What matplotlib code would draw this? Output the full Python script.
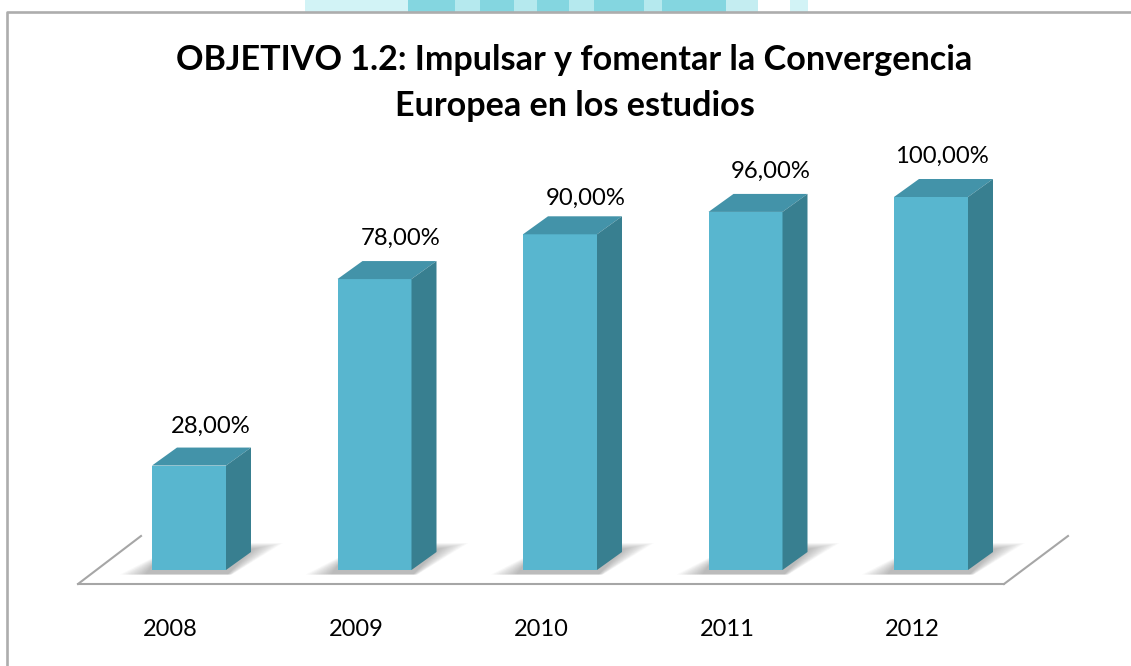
import matplotlib
matplotlib.use('Agg')
import matplotlib.pyplot as plt
from matplotlib.patches import Polygon, Rectangle

years = ['2008', '2009', '2010', '2011', '2012']
values = [28.0, 78.0, 90.0, 96.0, 100.0]
title = 'OBJETIVO 1.2: Impulsar y fomentar la Convergencia\nEuropea en los estudios'

W, H = 1131, 666
x_step = 185.5   # px per category
y_step = 3.73    # px per percent
x0_px, y0_px = 189, 570  # where category 0 / value 0 fall

# where the labels sit relative to the bar, in px
label_dx = [21.5, 26, 25.5, 25, 11]
label_dy = [39.5, 40.5, 35.5, 40.5, 40.5]


def px(v):
    return v / x_step


def py(v):
    return v / y_step


plt.rcParams['font.family'] = ['Lato', 'DejaVu Sans']

fig = plt.figure(figsize=(W / 100, H / 100), dpi=100)
ax = fig.add_axes([0, 0, 1, 1])
ax.set_xlim(-x0_px / x_step, (W - x0_px) / x_step)
ax.set_ylim((y0_px - H) / y_step, y0_px / y_step)
ax.axis('off')

bar_w = px(74)
dx = px(25)
dy = py(18)

front = '#58b6cf'
top = '#4393a9'
side = '#387f90'

# soft shadow behind each bar, on the floor
n_layers = 16
for i in range(len(values)):
    l = i - bar_w / 2
    r = i + bar_w / 2
    for k in range(n_layers):
        ax.add_patch(Polygon([(l - px(32 - k * 1.7), py(-4.5)),
                              (r + px(6 - k * 0.3), py(-4.5)),
                              (r + dx + px(32 - k * 2), py(27 - k * 0.4)),
                              (r + px(10), py(27 - k * 0.4)),
                              (l, py(12 - k * 0.5))],
                             closed=True, fc='#404040', ec='none', alpha=0.025, zorder=1))

# floor
floor_y = py(y0_px - 584)
back_y = py(y0_px - 536)
ax.plot([px(78 - x0_px), px(1004 - x0_px)], [floor_y, floor_y],
        color='#a6a6a6', lw=1.5, zorder=2, solid_capstyle='round')
ax.plot([px(78 - x0_px), px(141 - x0_px)], [floor_y, back_y], color='#a6a6a6', lw=1.5, zorder=2)
ax.plot([px(1004 - x0_px), px(1068 - x0_px)], [floor_y, back_y], color='#a6a6a6', lw=1.5, zorder=2)

# bars
for i, v in enumerate(values):
    l = i - bar_w / 2
    r = i + bar_w / 2
    ax.bar(i, v, width=bar_w, color=front, zorder=3)
    ax.add_patch(Polygon([(l, v), (r, v), (r + dx, v + dy), (l + dx, v + dy)],
                         closed=True, fc=top, ec='none', zorder=3))
    ax.add_patch(Polygon([(r, 0), (r + dx, dy), (r + dx, v + dy), (r, v)],
                         closed=True, fc=side, ec='none', zorder=3))
    ax.text(i + px(label_dx[i]), v + py(label_dy[i]), ('%.2f%%' % v).replace('.', ','),
            ha='center', va='center', fontsize=17.2, color='black', zorder=4)
    ax.text(i - px(18.5), py(-59.5), years[i], ha='center', va='center', fontsize=17, color='black')

ax.text(px(574.5 - x0_px), py(y0_px - 83), title, ha='center', va='center',
        fontsize=24.6, fontweight='bold', color='black', linespacing=1.5)

# bit of the page decoration showing above the frame
deco = [(305, 408, '#d2f3f6'), (408, 455, '#84d6e0'), (480, 514, '#84d6e0'),
        (537, 644, '#84d6e0'), (662, 726, '#84d6e0'), (726, 758, '#c4edf1'), (790, 808, '#d2f3f6')]
for x1, x2, c in deco:
    fig.add_artist(Rectangle((x1 / W, 1 - 12 / H), (x2 - x1) / W, 12 / H, fc=c, ec='none',
                             transform=fig.transFigure))
for x1, x2 in [(455, 480), (514, 537), (569, 594), (644, 662)]:
    fig.add_artist(Rectangle((x1 / W, 1 - 12 / H), (x2 - x1) / W, 12 / H, fc='#b5e9ee', ec='none',
                             transform=fig.transFigure))

# outer frame of the pasted chart
frame_c = '#adadad'
fig.add_artist(plt.Line2D([7 / W, 7 / W, 1], [0, 1 - 12 / H, 1 - 12 / H], color=frame_c, lw=1.9))

fig.savefig('out.png', dpi=100)
